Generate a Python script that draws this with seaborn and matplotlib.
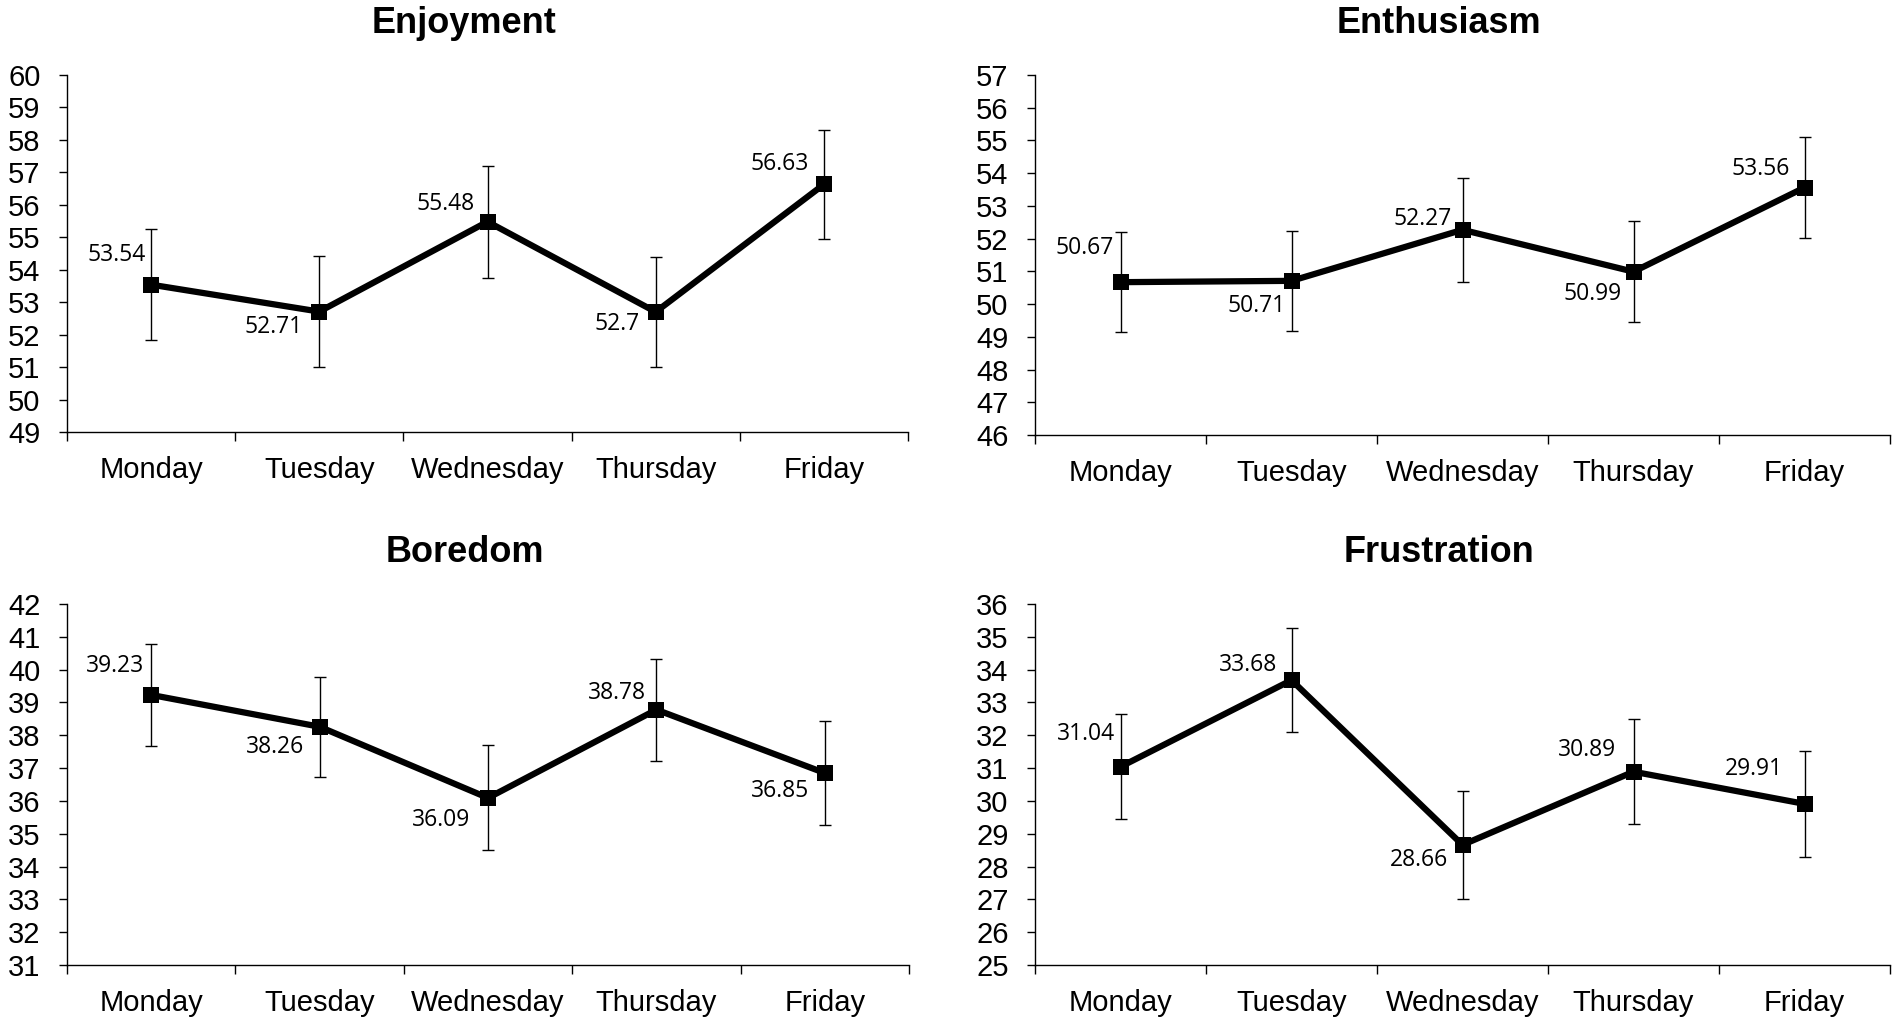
import numpy as np
import pandas as pd
import matplotlib
matplotlib.use("Agg")
import matplotlib.pyplot as plt
import seaborn as sns

# data
days = ["Monday", "Tuesday", "Wednesday", "Thursday", "Friday"]

enjoyment = [53.54, 52.71, 55.48, 52.70, 56.63]
enjoyment_err = [1.70, 1.70, 1.72, 1.70, 1.68]
enthusiasm = [50.67, 50.71, 52.27, 50.99, 53.56]
enthusiasm_err = [1.52, 1.53, 1.58, 1.55, 1.55]
boredom = [39.23, 38.26, 36.09, 38.78, 36.85]
boredom_err = [1.55, 1.53, 1.60, 1.55, 1.58]
frustration = [31.04, 33.68, 28.66, 30.89, 29.91]
frustration_err = [1.60, 1.58, 1.65, 1.60, 1.62]

titles = ["Enjoyment", "Enthusiasm", "Boredom", "Frustration"]
y_ranges = [(49, 60), (46, 57), (31, 42), (25, 36)]

# label offsets in pixels (dx, dy) relative to the point
label_dx = [[-5, -17, -13, -16, -15],
            [-7, -6, -11, -12, -15],
            [-7, -15, -18, -10, -16],
            [-5, -14, -14, -17, -22]]
label_dy = [[30, -15, 18, -12, 20],
            [34, -25, 11, -22, 19],
            [29, -20, -22, 17, -18],
            [33, 15, -15, 22, 35]]

W, H = 1897, 1023
# axes boxes in pixels: left, top, right, bottom
boxes = [(67, 75, 908, 432), (1035, 75, 1890, 435),
         (67, 604, 909, 965), (1035, 604, 1890, 965)]

sns.set_style("white")
plt.rcParams["font.family"] = ["Liberation Sans", "DejaVu Sans"]
plt.rcParams["text.color"] = "black"
plt.rcParams["xtick.color"] = "black"
plt.rcParams["ytick.color"] = "black"
plt.rcParams["axes.labelcolor"] = "black"

fig = plt.figure(figsize=(W / 100, H / 100), dpi=100)

series = [(enjoyment, enjoyment_err), (enthusiasm, enthusiasm_err),
          (boredom, boredom_err), (frustration, frustration_err)]

for i, (vals, errs) in enumerate(series):
    l, t, r, b = boxes[i]
    ax = fig.add_axes([l / W, 1 - b / H, (r - l) / W, (b - t) / H])
    df = pd.DataFrame({"pos": np.arange(len(days)), "val": vals, "err": errs})

    ax.errorbar(df["pos"], df["val"], yerr=df["err"], fmt="none", ecolor="black",
                elinewidth=1.0, capsize=4.5, capthick=1.0, zorder=2)
    sns.lineplot(data=df, x="pos", y="val", ax=ax, color="black", linewidth=4.5,
                 marker="s", markersize=12, markeredgewidth=0, errorbar=None, zorder=3)

    for j in range(len(days)):
        ax.annotate(f"{vals[j]:g}", (df["pos"][j], vals[j]),
                    xytext=(label_dx[i][j], label_dy[i][j]), textcoords="offset pixels",
                    ha="right", va="center", fontsize=16.5, color="black",
                    family=["Open Sans", "DejaVu Sans"])

    lo, hi = y_ranges[i]
    ax.set_ylim(lo, hi)
    ax.set_yticks(np.arange(lo, hi + 1, 1))
    ax.set_xlim(-0.5, len(days) - 0.5)
    ax.set_xticks(np.arange(len(days) + 1) - 0.5)
    ax.set_xticklabels([])
    ax.set_xticks(np.arange(len(days)), minor=True)
    ax.set_xticklabels(days, minor=True)
    ax.tick_params(axis="x", which="major", direction="out", length=6.7, width=1.0,
                   color="black", bottom=True)
    ax.tick_params(axis="x", which="minor", length=0, pad=17, labelsize=21,
                   labelcolor="black")
    ax.tick_params(axis="y", direction="out", length=5.5, width=1.0, color="black",
                   pad=13.5, labelsize=21, left=True, labelcolor="black")
    ax.set_xlabel("")
    ax.set_ylabel("")

    for side in ["top", "right"]:
        ax.spines[side].set_visible(False)
    for side in ["left", "bottom"]:
        ax.spines[side].set_color("black")
        ax.spines[side].set_linewidth(1.0)

    ax.set_title(titles[i], fontsize=26, fontweight="bold", x=0.472, pad=30,
                 color="black")

fig.savefig("out.png", dpi=100)
